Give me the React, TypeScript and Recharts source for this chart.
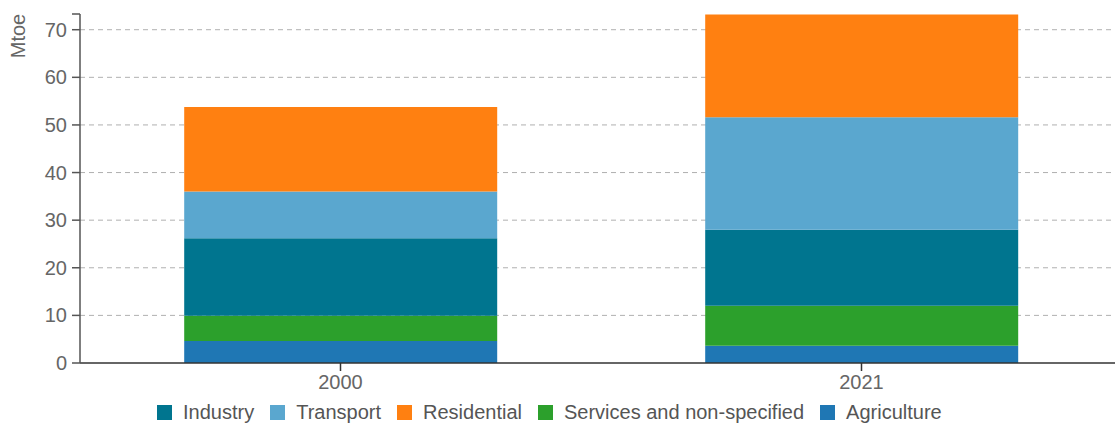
import React from 'react';
import { BarChart, Bar, XAxis, YAxis, CartesianGrid, Legend } from 'recharts';

const categories = ['2000', '2021'];
const agriculture = [4.6, 3.6];
const services = [5.3, 8.4];
const industry = [16.3, 16.0];
const transport = [9.8, 23.6];
const residential = [17.75, 21.6];
const yTicks = [0, 10, 20, 30, 40, 50, 60, 70];
const yMax = 73.3;

const seriesDefs = [
  { key: 'Agriculture', values: agriculture, color: '#1F77B4' },
  { key: 'Services and non-specified', values: services, color: '#2CA02C' },
  { key: 'Industry', values: industry, color: '#00758F' },
  { key: 'Transport', values: transport, color: '#5AA7CF' },
  { key: 'Residential', values: residential, color: '#FF8011' },
];
const legendOrder = ['Industry', 'Transport', 'Residential', 'Services and non-specified', 'Agriculture'];

const data = categories.map((c, i) => {
  const row: Record<string, string | number> = { category: c };
  seriesDefs.forEach((s) => {
    row[s.key] = s.values[i];
  });
  return row;
});

const FONT = '"Liberation Sans", Arial, sans-serif';

const renderLegend = () => (
  <div style={{ display: 'flex', alignItems: 'center', fontFamily: FONT, fontSize: 20, color: '#555', whiteSpace: 'nowrap', lineHeight: '24px' }}>
    {legendOrder.map((k) => {
      const s = seriesDefs.find((d) => d.key === k)!;
      return (
        <div key={k} style={{ display: 'flex', alignItems: 'center', marginRight: 16 }}>
          <span style={{ display: 'inline-block', width: 15, height: 15, background: s.color, marginRight: 11 }} />
          <span>{k}</span>
        </div>
      );
    })}
  </div>
);

const YLabel = () => (
  <text
    x={18}
    y={36}
    transform="rotate(-90, 18, 36)"
    textAnchor="middle"
    dominantBaseline="central"
    fill="#666"
    fontSize={20}
    fontFamily={FONT}
  >
    Mtoe
  </text>
);

const YTick = (props: any) => {
  const { x, y, payload } = props;
  if (!yTicks.includes(payload.value)) return null;
  return (
    <text x={x} y={y} textAnchor="end" dominantBaseline="central" fill="#666" fontSize={20} fontFamily={FONT}>
      {payload.value}
    </text>
  );
};

export default function App() {
  return (
    <div style={{ position: 'absolute', top: 0, left: 0, width: 1115, height: 427, overflow: 'hidden', background: '#fff' }}>
      <BarChart
        width={1122}
        height={427}
        data={data}
        margin={{ top: 14, right: 0, bottom: 0, left: 0 }}
        barCategoryGap="20%"
      >
        <CartesianGrid vertical={false} stroke="#b0b0b0" strokeDasharray="5 4" horizontalValues={[10, 20, 30, 40, 50, 60, 70]} />
        <XAxis
          dataKey="category"
          height={64}
          tickSize={8}
          tickMargin={4}
          stroke="#333"
          strokeWidth={1.5}
          tick={{ fill: '#666', fontSize: 20, fontFamily: FONT }}
        />
        <YAxis
          width={80}
          domain={[0, yMax]}
          ticks={[...yTicks, yMax]}
          interval={0}
          tickSize={8}
          tickMargin={5}
          stroke="#555"
          strokeWidth={1.5}
          tick={<YTick />}
          label={<YLabel />}
        />
        {seriesDefs.map((s) => (
          <Bar key={s.key} dataKey={s.key} stackId="a" fill={s.color} isAnimationActive={false} />
        ))}
        <Legend
          verticalAlign="middle"
          align="center"
          content={renderLegend}
          wrapperStyle={{ top: 400, left: 157, width: 'auto' }}
        />
      </BarChart>
    </div>
  );
}
